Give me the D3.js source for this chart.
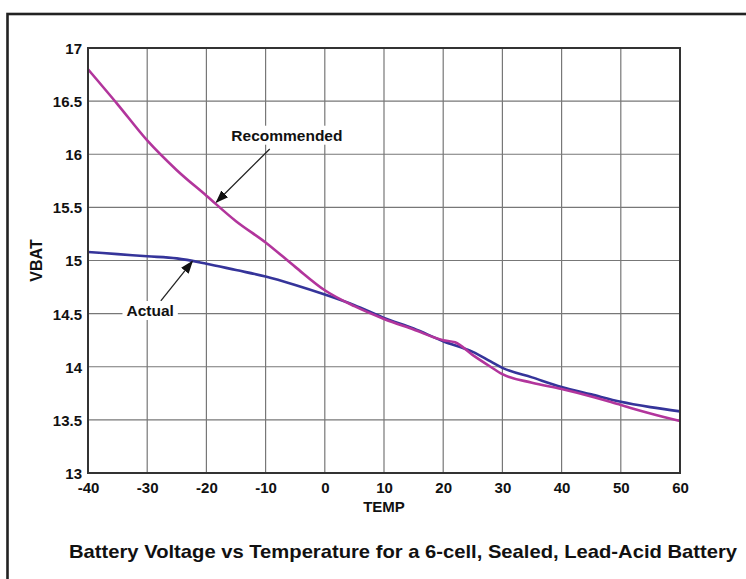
<!DOCTYPE html>
<html><head><meta charset="utf-8">
<script src="https://cdn.jsdelivr.net/npm/d3@7"></script>
<style>body{margin:0;background:#fff}svg{display:block}text{font-family:"Liberation Sans",Arial,sans-serif;font-weight:bold;fill:#111}</style>
</head><body><svg id="c" width="746" height="579"></svg>
<script>
const xTicks = [-40,-30,-20,-10,0,10,20,30,40,50,60];
const xTickLabels = ["-40","-30","-20","-10","0","10","20","30","40","50","60"];
const yTicks = [13,13.5,14,14.5,15,15.5,16,16.5,17];
const yTickLabels = ["13","13.5","14","14.5","15","15.5","16","16.5","17"];
const recTemp = [-40,-35,-30,-25,-20,-15,-10,-5,0,5,10,15,20,22,25,28,30,35,40,45,50,55,60];
const recVolt = [16.80,16.47,16.13,15.85,15.61,15.37,15.17,14.94,14.72,14.57,14.45,14.35,14.25,14.23,14.11,14.00,13.93,13.85,13.79,13.72,13.64,13.56,13.49];
const actTemp = [-40,-35,-30,-25,-20,-15,-10,-5,0,5,10,15,20,25,28,30,35,40,45,50,55,60];
const actVolt = [15.08,15.06,15.04,15.02,14.97,14.91,14.85,14.77,14.68,14.58,14.46,14.36,14.24,14.14,14.05,13.99,13.90,13.81,13.74,13.67,13.62,13.58];
const labels = [
  {text:"Recommended", t:-6.4, v:16.18, from:[-9.3,16.05], to:[-18.3,15.55]},
  {text:"Actual", t:-29.5, v:14.53, from:[-27.7,14.62], to:[-22.4,14.99]}
];
const title = "Battery Voltage vs Temperature for a 6-cell, Sealed, Lead-Acid Battery";

const svg = d3.select("#c");
const m = {l:88, r:680, t:48, b:473};
const x = d3.scaleLinear().domain([-40,60]).range([m.l,m.r]);
const y = d3.scaleLinear().domain([13,17]).range([m.b,m.t]);

svg.append("rect").attr("width",746).attr("height",579).attr("fill","#fff");
svg.append("rect").attr("x",7.5).attr("y",14).attr("width",760).attr("height",600)
  .attr("fill","none").attr("stroke","#222").attr("stroke-width",2.6);

const g = svg.append("g");
g.selectAll(".vx").data(xTicks).join("line")
  .attr("x1",d=>x(d)).attr("x2",d=>x(d)).attr("y1",m.t).attr("y2",m.b)
  .attr("stroke","#777").attr("stroke-width",1.2);
g.selectAll(".hy").data(yTicks).join("line")
  .attr("y1",d=>y(d)).attr("y2",d=>y(d)).attr("x1",m.l).attr("x2",m.r)
  .attr("stroke","#777").attr("stroke-width",1.2);

const xAxis = svg.append("g").attr("transform",`translate(0,${m.b})`)
  .call(d3.axisBottom(x).tickValues(xTicks).tickFormat((d,i)=>xTickLabels[i]).tickSize(0).tickPadding(9));
const yAxis = svg.append("g").attr("transform",`translate(${m.l},0)`)
  .call(d3.axisLeft(y).tickValues(yTicks).tickFormat((d,i)=>yTickLabels[i]).tickSize(0).tickPadding(6));
[xAxis,yAxis].forEach(a=>{a.select(".domain").remove();
  a.attr("font-size",null).attr("font-family",null);
  a.selectAll("text").style("font-size","15px").attr("fill","#111");});
yAxis.selectAll("text").attr("dy","0.36em");

svg.append("text").attr("x",(m.l+m.r)/2).attr("y",512).attr("text-anchor","middle").style("font-size","15px").text("TEMP");
svg.append("text").attr("transform",`translate(42,${(m.t+m.b)/2}) rotate(-90)`).attr("text-anchor","middle").style("font-size","16px").text("VBAT");

const line = d3.line().x(d=>x(d[0])).y(d=>y(d[1])).curve(d3.curveMonotoneX);
const plot = svg.append("g");
plot.append("path").datum(actTemp.map((t,i)=>[t,actVolt[i]])).attr("d",line)
  .attr("fill","none").attr("stroke","#35349a").attr("stroke-width",2.6);
plot.append("path").datum(recTemp.map((t,i)=>[t,recVolt[i]])).attr("d",line)
  .attr("fill","none").attr("stroke","#b2359c").attr("stroke-width",2.6);

svg.append("rect").attr("x",m.l).attr("y",m.t).attr("width",m.r-m.l).attr("height",m.b-m.t)
  .attr("fill","none").attr("stroke","#333").attr("stroke-width",2);

const defs = svg.append("defs");
defs.append("marker").attr("id","ah").attr("viewBox","0 0 10 10").attr("refX",9).attr("refY",5)
  .attr("markerUnits","userSpaceOnUse").attr("orient","auto")
  .attr("markerWidth",13).attr("markerHeight",13)
  .append("path").attr("d","M0,1.3 L10,5 L0,8.7 Z").attr("fill","#111");
labels.forEach(L=>{
  svg.append("line").attr("x1",x(L.from[0])).attr("y1",y(L.from[1])).attr("x2",x(L.to[0])).attr("y2",y(L.to[1]))
    .attr("stroke","#222").attr("stroke-width",1.3).attr("marker-end","url(#ah)");
  const t = svg.append("text").attr("x",x(L.t)).attr("y",y(L.v)).attr("dy","0.36em")
    .attr("text-anchor","middle").style("font-size","15.5px").text(L.text);
  const bb = t.node().getBBox();
  svg.insert("rect", () => t.node()).attr("x",bb.x-4).attr("y",bb.y-1).attr("width",bb.width+8).attr("height",bb.height+2).attr("fill","#fff");
});

svg.append("text").attr("x",403).attr("y",558).attr("text-anchor","middle").style("font-size","19px")
  .attr("textLength",668).attr("lengthAdjust","spacingAndGlyphs").text(title);
</script></body></html>
